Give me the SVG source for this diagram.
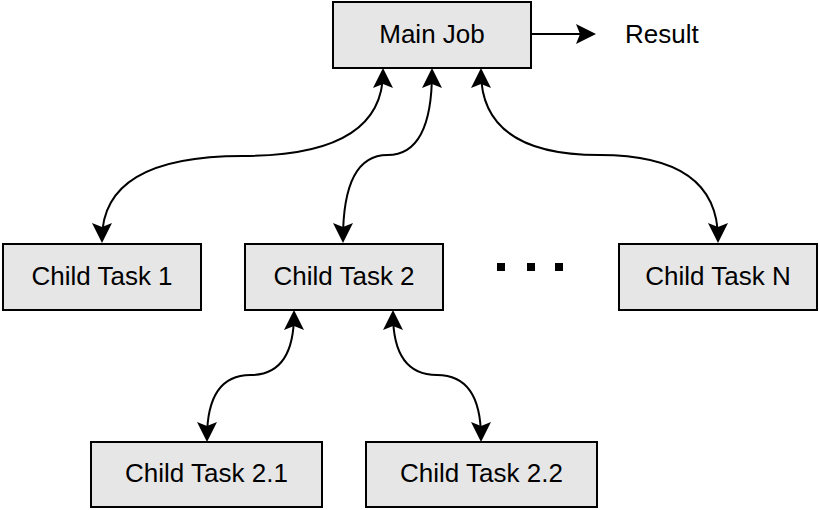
<svg xmlns="http://www.w3.org/2000/svg" width="820" height="510" viewBox="0 0 820 510">
<style>
.box{fill:#e6e6e6;stroke:#000;stroke-width:2}
.lbl{font-family:"Liberation Sans",Arial,sans-serif;font-size:26px;fill:#000;text-anchor:middle}
.edge{fill:none;stroke:#000;stroke-width:2;marker-start:url(#arr);marker-end:url(#arr)}
.one{fill:none;stroke:#000;stroke-width:2;marker-end:url(#arr)}
</style>
<defs>
<marker id="arr" markerUnits="userSpaceOnUse" viewBox="0 0 20 20" refX="16" refY="10" markerWidth="20" markerHeight="20" orient="auto-start-reverse">
<path d="M0,0 L20,10 L0,20 L4,10 Z" fill="#000"/>
</marker>
</defs>
<rect width="820" height="510" fill="#fff"/>
<g id="connectors">
<path class="edge" d="M383,72 Q383,156 242.5,156 Q102,156 102,239"/>
<path class="edge" d="M432,72 Q432,155 387.5,155 Q343,155 343,239"/>
<path class="edge" d="M481,72 Q481,155 599.5,155 Q718,155 718,239"/>
<path class="edge" d="M294,314 Q294,375 250.5,375 Q207,375 207,438"/>
<path class="edge" d="M393,314 Q393,375 437,375 Q481,375 481,438"/>
<path class="one" d="M531,34 L592,34"/>
</g>
<g id="main-job"><rect class="box" x="333" y="2" width="198" height="66"/><text class="lbl" x="432" y="43">Main Job</text></g>
<g id="result"><text class="lbl" x="625" y="43" style="text-anchor:start">Result</text></g>
<g id="child-1"><rect class="box" x="3" y="244" width="198" height="66"/><text class="lbl" x="102" y="285">Child Task 1</text></g>
<g id="child-2"><rect class="box" x="245" y="244" width="198" height="66"/><text class="lbl" x="344" y="285">Child Task 2</text></g>
<g id="child-n"><rect class="box" x="619" y="244" width="198" height="66"/><text class="lbl" x="718" y="285">Child Task N</text></g>
<g id="ellipsis"><rect x="497" y="263" width="8" height="8"/><rect x="527" y="263" width="8" height="8"/><rect x="555" y="263" width="8" height="8"/></g>
<g id="child-2-1"><rect class="box" x="91" y="442" width="231" height="65"/><text class="lbl" x="206.5" y="482">Child Task 2.1</text></g>
<g id="child-2-2"><rect class="box" x="366" y="442" width="231" height="65"/><text class="lbl" x="481.5" y="482">Child Task 2.2</text></g>
</svg>
